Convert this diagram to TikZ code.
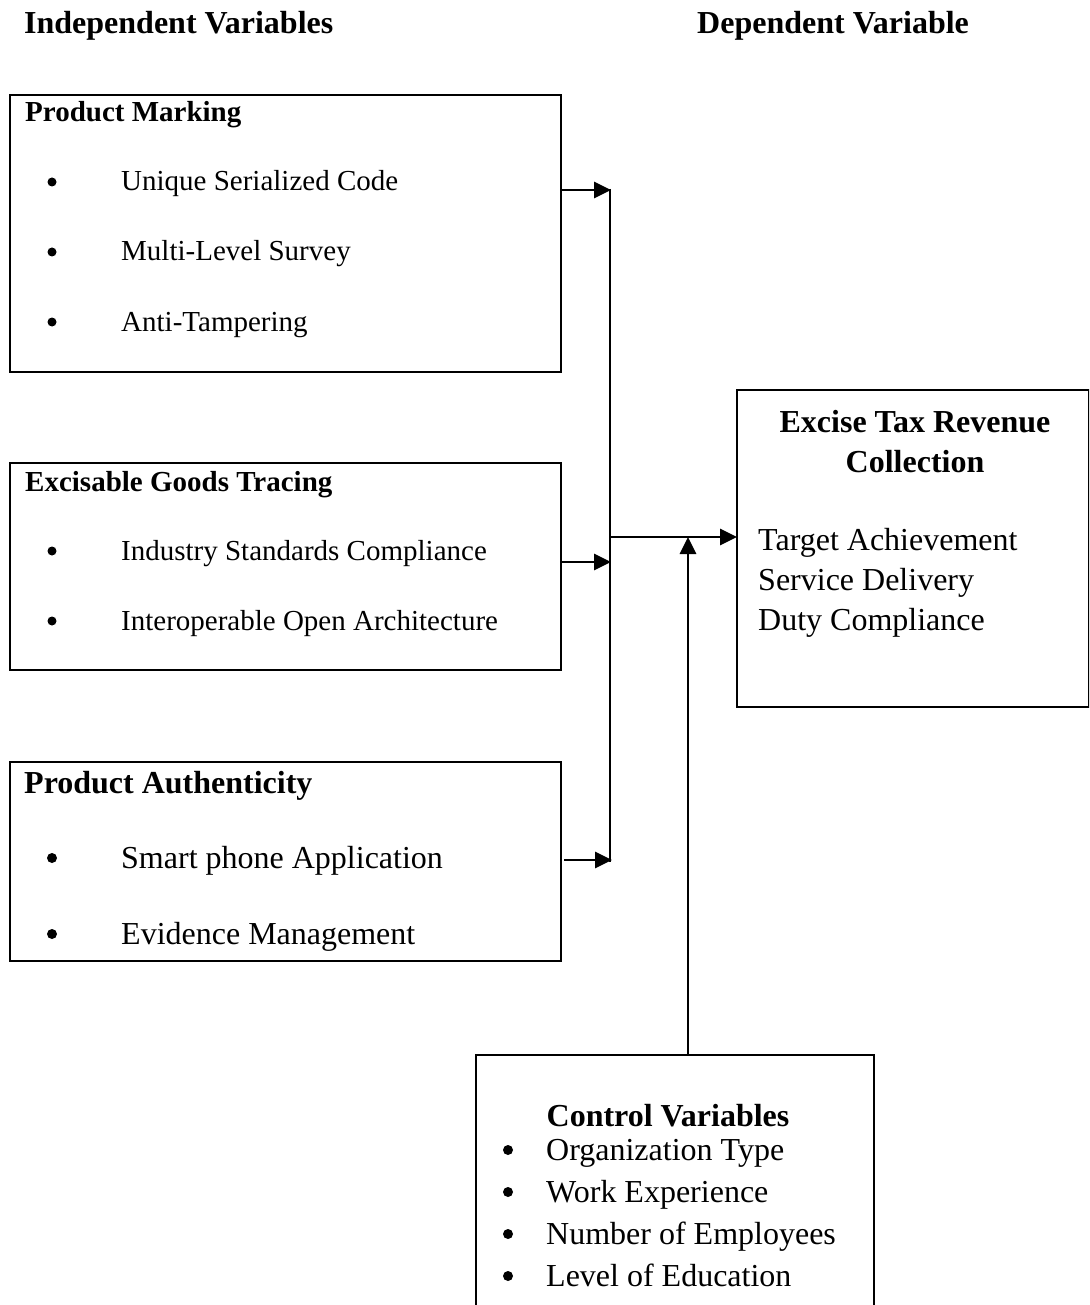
\documentclass[tikz,border=0pt]{standalone}
\usepackage{fontspec}
\setmainfont{Liberation Serif}
\usetikzlibrary{arrows.meta}
\begin{document}
\begin{tikzpicture}[x=1pt,y=-1pt,
  frame/.style={draw,line width=2.2pt,inner sep=0pt,outer sep=0pt,anchor=north west},
  txt/.style={anchor=base west,inner sep=0pt,font=\fontsize{29}{35}\selectfont},
  btxt/.style={anchor=base west,inner sep=0pt,font=\fontsize{29}{35}\selectfont\bfseries},
  txtL/.style={anchor=base west,inner sep=0pt,font=\fontsize{32}{38}\selectfont},
  btxtL/.style={anchor=base west,inner sep=0pt,font=\fontsize{32}{38}\selectfont\bfseries},
  ctitle/.style={anchor=base,inner sep=0pt,font=\fontsize{32}{38}\selectfont\bfseries},
  conn/.style={line width=2.8pt},
  arr/.style={line width=2.8pt,-{Triangle[length=17pt,width=16pt]}},
  dot/.style={fill=black}
]
\clip (0,0) rectangle (1089,1305);
\useasboundingbox (0,0) rectangle (1089,1305);

% headers
\node[btxtL] (hind) at (24,34) {Independent Variables};
\node[btxtL] (hdep) at (697,34) {Dependent Variable};

% Product Marking
\node[frame,minimum width=551pt,minimum height=277pt] (pm) at (10,95) {};
\node[btxt] (pmt) at (25,122) {Product Marking};
\fill[dot] (52,182) circle (4.5);
\node[txt] (pm1) at (121,191) {Unique Serialized Code};
\fill[dot] (52,252) circle (4.5);
\node[txt] (pm2) at (121,261) {Multi-Level Survey};
\fill[dot] (52,322) circle (4.5);
\node[txt] (pm3) at (121,331) {Anti-Tampering};

% Excisable Goods Tracing
\node[frame,minimum width=551pt,minimum height=207pt] (egt) at (10,463) {};
\node[btxt] (egtt) at (25,491) {Excisable Goods Tracing};
\fill[dot] (52,551) circle (4.5);
\node[txt] (egt1) at (121,560) {Industry Standards Compliance};
\fill[dot] (52,621) circle (4.5);
\node[txt] (egt2) at (121,630) {Interoperable Open Architecture};

% Product Authenticity
\node[frame,minimum width=551pt,minimum height=199pt] (pa) at (10,762) {};
\node[btxtL] (pat) at (24,793) {Product Authenticity};
\fill[dot] (52,858) circle (5);
\node[txtL] (pa1) at (121,868) {Smart phone Application};
\fill[dot] (52,934) circle (5);
\node[txtL] (pa2) at (121,944) {Evidence Management};

% Excise Tax Revenue Collection
\node[frame,minimum width=352pt,minimum height=317pt] (exc) at (737,390) {};
\node[ctitle] (exct1) at (915,432) {Excise Tax Revenue};
\node[ctitle] (exct2) at (915,472) {Collection};
\node[txtL] (exc1) at (758,550) {Target Achievement};
\node[txtL] (exc2) at (758,590) {Service Delivery};
\node[txtL] (exc3) at (758,630) {Duty Compliance};

% Control Variables
\node[frame,minimum width=398pt,minimum height=300pt] (ctl) at (476,1055) {};
\node[ctitle] (ctlt) at (668,1126) {Control Variables};
\fill[dot] (508,1150) circle (5);
\node[txtL] (c1) at (546,1160) {Organization Type};
\fill[dot] (508,1192) circle (5);
\node[txtL] (c2) at (546,1202) {Work Experience};
\fill[dot] (508,1234) circle (5);
\node[txtL] (c3) at (546,1244) {Number of Employees};
\fill[dot] (508,1276) circle (5);
\node[txtL] (c4) at (546,1286) {Level of Education};

% connectors
\coordinate (jtop) at (610,189);
\coordinate (jbot) at (610,862);
\draw[conn] (jtop) -- (jbot);

\coordinate (a1s) at (561,190);
\coordinate (a1e) at (611,190);
\draw[arr] (a1s) -- (a1e);

\coordinate (a2s) at (561,562);
\coordinate (a2e) at (611,562);
\draw[arr] (a2s) -- (a2e);

\coordinate (a3s) at (564,860);
\coordinate (a3e) at (612,860);
\draw[arr] (a3s) -- (a3e);

\coordinate (ms) at (610,537);
\coordinate (me) at (737,537);
\draw[arr] (ms) -- (me);

\coordinate (cs) at (688,1055);
\coordinate (ce) at (688,537);
\draw[arr] (cs) -- (ce);
\end{tikzpicture}
\end{document}
